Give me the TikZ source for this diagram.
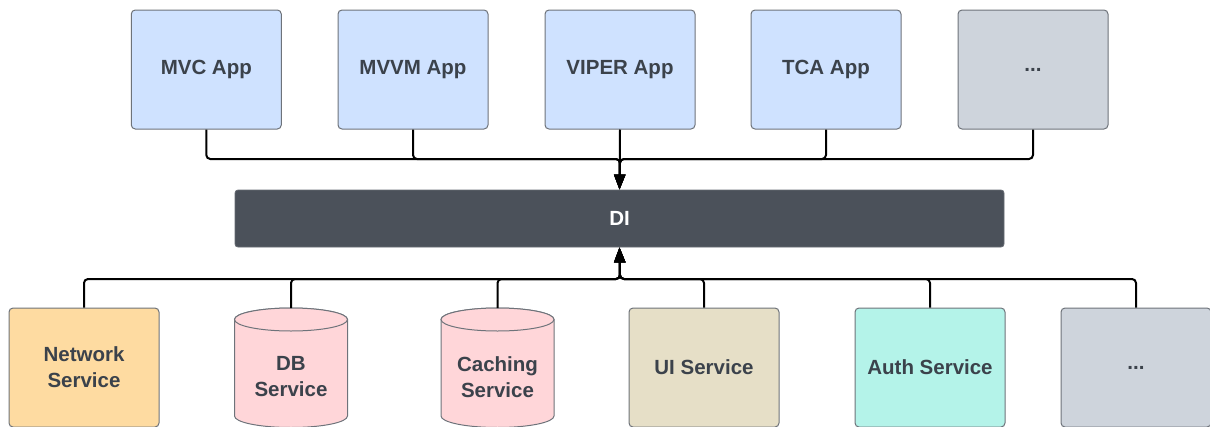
\documentclass[tikz,border=0pt]{standalone}
\usepackage{fontspec}
\setmainfont{Liberation Sans}
\usetikzlibrary{arrows.meta}

\definecolor{ink}{HTML}{3B424B}
\definecolor{edge}{HTML}{6E737A}
\definecolor{appblue}{HTML}{CFE2FF}
\definecolor{moregrey}{HTML}{CED4DC}
\definecolor{netorange}{HTML}{FEDBA1}
\definecolor{storepink}{HTML}{FFD6D9}
\definecolor{uibeige}{HTML}{E6DFC7}
\definecolor{authmint}{HTML}{B4F3E9}
\definecolor{dibar}{HTML}{4B515A}

\tikzset{
  box/.style={draw=edge, line width=1pt, rounded corners=4pt,
    minimum width=150pt, minimum height=119pt, inner sep=2pt,
    text=ink, align=center, font=\fontsize{20.5}{26}\selectfont\bfseries},
  appbox/.style={box, fill=appblue},
  morebox/.style={box, fill=moregrey},
  cylbody/.style={fill=storepink, draw=edge, line width=1pt},
  cyltext/.style={text=ink, align=center, inner sep=0pt,
    font=\fontsize{20.5}{26}\selectfont\bfseries},
  hub/.style={fill=dibar, draw=dibar!85!white, line width=0.8pt, rounded corners=3pt,
    minimum width=769pt, minimum height=57pt, text=white,
    font=\fontsize{20.5}{26}\selectfont\bfseries},
  wire/.style={draw=black, line width=2pt, rounded corners=4pt,
    -{Triangle[length=15pt,width=11pt]}},
}

\begin{document}
\begin{tikzpicture}[x=1pt,y=-1pt]
\useasboundingbox (0,0) rectangle (1210,426);
\clip (0,0) rectangle (1210,426);

% client apps
\node[appbox]  (mvc)   at (206.3,69.5) {MVC App};
\node[appbox]  (mvvm)  at (413,69.5)   {MVVM App};
\node[appbox]  (viper) at (620,69.5)   {VIPER App};
\node[appbox]  (tca)   at (826,69.5)   {TCA App};
\node[morebox] (appmore) at (1033,69.5) {...};

% container
\node[hub] (di) at (619.5,218.5) {DI};

% services
\node[box, fill=netorange] (net) at (84,367.5) {Network\\Service};

% DB storage cylinder
\path[cylbody] (234.5,319.5) -- (234.5,416)
  arc[start angle=180, end angle=0, x radius=56.5, y radius=11.5]
  -- (347.5,319.5)
  arc[start angle=0, end angle=-180, x radius=56.5, y radius=11.5] -- cycle;
\draw[cylbody] (291,319.5) ellipse [x radius=56.5, y radius=11.5];
\coordinate (dbtop) at (291,308);
\node[cyltext] (db) at (291,377) {DB\\Service};

% cache storage cylinder
\path[cylbody] (441,319.5) -- (441,416)
  arc[start angle=180, end angle=0, x radius=56.5, y radius=11.5]
  -- (554,319.5)
  arc[start angle=0, end angle=-180, x radius=56.5, y radius=11.5] -- cycle;
\draw[cylbody] (497.5,319.5) ellipse [x radius=56.5, y radius=11.5];
\coordinate (cachetop) at (497.5,308);
\node[cyltext] (cache) at (497.5,377) {Caching\\Service};

\node[box, fill=uibeige]  (ui)   at (704,367.5)  {UI Service};
\node[box, fill=authmint] (auth) at (930,367.5)  {Auth Service};
\node[morebox]            (svcmore) at (1136,367.5) {...};

% bus junctions
\coordinate (topbus) at (620,159);
\coordinate (botbus) at (620,279);

% apps -> DI
\draw[wire] (mvc.south)  |- (topbus) -- (di.north);
\draw[wire] (mvvm.south) |- (topbus) -- (di.north);
\draw[wire] (viper.south) -- (di.north);
\draw[wire] (tca.south)  |- (topbus) -- (di.north);
\draw[wire] (appmore.south) |- (topbus) -- (di.north);

% services -> DI
\draw[wire] (net.north)  |- (botbus) -- (di.south);
\draw[wire] (dbtop)      |- (botbus) -- (di.south);
\draw[wire] (cachetop)   |- (botbus) -- (di.south);
\draw[wire] (ui.north)   |- (botbus) -- (di.south);
\draw[wire] (auth.north) |- (botbus) -- (di.south);
\draw[wire] (svcmore.north) |- (botbus) -- (di.south);
\end{tikzpicture}
\end{document}
